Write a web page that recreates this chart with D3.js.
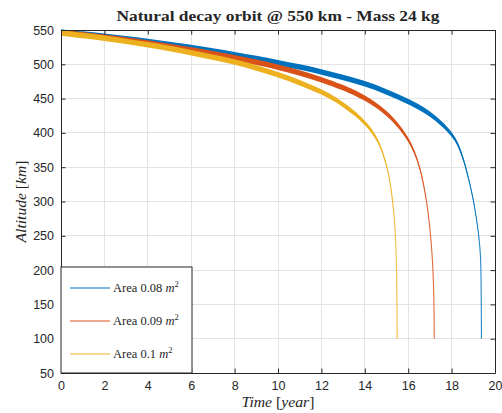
<!DOCTYPE html>
<html>
<head>
<meta charset="utf-8">
<script src="https://cdn.jsdelivr.net/npm/d3@7"></script>
<style>
  html, body { margin: 0; padding: 0; background: #fff; }
  svg { display: block; }
</style>
</head>
<body>
<script>
// ---------------- data ----------------
const xTicks = [0, 2, 4, 6, 8, 10, 12, 14, 16, 18, 20];
const yTicks = [50, 100, 150, 200, 250, 300, 350, 400, 450, 500, 550];
const areaLabels = ["0.08", "0.09", "0.1"];
const seriesColors = ["#0072BD", "#D95319", "#EDB120"];

// time [year] and altitude [km] (orbit-averaged), plus half-width of the oscillation band [km]
const blueTime = [0, 1, 2, 3, 4, 5, 6, 7, 8, 9, 10, 11, 12, 13, 14, 15, 16, 16.5, 17, 17.5, 18, 18.3, 18.6, 18.8, 19.0, 19.1, 19.2, 19.27, 19.32, 19.345, 19.36, 19.37, 19.375];
const blueAlt  = [547, 544, 541, 537.5, 533.5, 529, 524.5, 519.5, 514, 508.5, 502.5, 496, 489, 481, 472, 460, 446, 437.5, 428, 415, 399, 384, 357, 331, 303, 284, 263, 245, 227, 211, 185, 145, 100];
const blueBand = [4, 4, 4, 4, 4, 4, 4, 4, 4, 4, 4, 4, 4, 4, 4, 4, 4, 3.9, 3.8, 3.6, 3.4, 3.2, 2.8, 2.4, 2.0, 1.7, 1.4, 1.1, 0.8, 0.5, 0.3, 0.1, 0];

const orangeTime = [0, 1, 2, 3, 4, 5, 6, 7, 8, 9, 10, 11, 12, 13, 13.5, 14, 14.5, 15, 15.5, 16, 16.3, 16.54, 16.7, 16.85, 16.96, 17.04, 17.1, 17.15, 17.18, 17.195, 17.2];
const orangeAlt  = [546, 543, 539.5, 535.5, 531, 526, 521, 515.5, 509.5, 503, 496, 487.5, 478, 466, 459, 451, 441, 429, 413, 391, 372, 349, 327, 300, 273, 248, 224, 195, 165, 135, 100];
const orangeBand = [4, 4, 4, 4, 4, 4, 4, 4, 4, 4, 4, 4, 4, 4, 4, 4, 3.8, 3.6, 3.4, 3.1, 2.8, 2.4, 2, 1.6, 1.2, 0.9, 0.6, 0.3, 0.15, 0.05, 0];

const yellowTime = [0, 1, 2, 3, 4, 5, 6, 7, 8, 9, 10, 11, 12, 12.5, 13, 13.5, 14, 14.3, 14.6, 14.8, 15, 15.15, 15.27, 15.35, 15.4, 15.44, 15.465, 15.48, 15.49];
const yellowAlt  = [545.5, 542, 538, 533.5, 528.5, 523, 517, 510.5, 503.5, 495, 485, 473.5, 460, 451.5, 441.5, 429.5, 415, 404, 389, 374, 353, 332, 305, 280, 258, 230, 203, 165, 100];
const yellowBand = [4, 4, 4, 4, 4, 4, 4, 4, 4, 4, 4, 4, 3.9, 3.8, 3.6, 3.4, 3.2, 3, 2.7, 2.4, 2.1, 1.7, 1.3, 0.9, 0.6, 0.35, 0.15, 0.05, 0];

const series = [
  { area: areaLabels[0], color: seriesColors[0], t: blueTime, h: blueAlt, b: blueBand },
  { area: areaLabels[1], color: seriesColors[1], t: orangeTime, h: orangeAlt, b: orangeBand },
  { area: areaLabels[2], color: seriesColors[2], t: yellowTime, h: yellowAlt, b: yellowBand }
];

// ---------------- layout ----------------
const W = 502, H = 413;
const mL = 61, mR = 495, mT = 30, mB = 373;
const axisColor = "#262626";
const gridColor = "#e3e3e3";

const svg = d3.select("body").append("svg").attr("width", W).attr("height", H);

const x = d3.scaleLinear().domain([0, 20]).range([mL, mR]);
const y = d3.scaleLinear().domain([50, 550]).range([mB, mT]);

// background
svg.append("rect").attr("x", mL).attr("y", mT).attr("width", mR - mL).attr("height", mB - mT).attr("fill", "#fff");

// grid
const grid = svg.append("g");
grid.selectAll(".gx").data(xTicks.slice(1, -1)).join("line")
  .attr("x1", d => x(d)).attr("x2", d => x(d)).attr("y1", mT).attr("y2", mB)
  .attr("stroke", gridColor).attr("stroke-width", 1).attr("shape-rendering", "crispEdges");
grid.selectAll(".gy").data(yTicks.slice(1, -1)).join("line")
  .attr("y1", d => y(d)).attr("y2", d => y(d)).attr("x1", mL).attr("x2", mR)
  .attr("stroke", gridColor).attr("stroke-width", 1).attr("shape-rendering", "crispEdges");

// curves
const plot = svg.append("g");
const curve = d3.curveBasis;
series.forEach(s => {
  const pts = s.t.map((t, i) => ({ t: t, h: s.h[i], b: s.b[i] || 0 }));
  const band = d3.area()
    .x(d => x(d.t)).y0(d => y(d.h - d.b)).y1(d => y(d.h + d.b))
    .curve(curve);
  const line = d3.line().x(d => x(d.t)).y(d => y(d.h)).curve(curve);
  plot.append("path").attr("d", band(pts)).attr("fill", s.color).attr("stroke", "none");
  plot.append("path").attr("d", line(pts)).attr("fill", "none").attr("stroke", s.color)
    .attr("stroke-width", 1.1).attr("stroke-opacity", 0.85);
});

// axes (box with inward ticks on all sides)
const tickLen = 4.5;
const axes = svg.append("g");
const xAxisB = d3.axisBottom(x).tickValues(xTicks).tickSizeInner(-tickLen).tickSizeOuter(0).tickPadding(8);
const yAxisL = d3.axisLeft(y).tickValues(yTicks).tickSizeInner(-tickLen).tickSizeOuter(0).tickPadding(7);
const xAxisT = d3.axisTop(x).tickValues(xTicks).tickSizeInner(-tickLen).tickSizeOuter(0).tickFormat("");
const yAxisR = d3.axisRight(y).tickValues(yTicks).tickSizeInner(-tickLen).tickSizeOuter(0).tickFormat("");

function style(g) {
  g.select(".domain").attr("stroke", axisColor).attr("stroke-width", 1);
  g.selectAll(".tick line").attr("stroke", axisColor).attr("stroke-width", 1);
  g.selectAll(".tick text").attr("fill", axisColor)
    .style("font-family", "'Liberation Sans', Arial, Helvetica, sans-serif").style("font-size", "12.5px");
}
axes.append("g").attr("transform", `translate(0,${mB})`).call(xAxisB).call(style);
axes.append("g").attr("transform", `translate(${mL},0)`).call(yAxisL).call(style);
axes.append("g").attr("transform", `translate(0,${mT})`).call(xAxisT).call(style);
axes.append("g").attr("transform", `translate(${mR},0)`).call(yAxisR).call(style);

// legend
const lgX = mL, lgY = 267, lgW = 131, lgH = mB - 267;
const lg = svg.append("g");
lg.append("rect").attr("x", lgX).attr("y", lgY).attr("width", lgW).attr("height", lgH)
  .attr("fill", "#fff").attr("stroke", axisColor).attr("stroke-width", 1);
const rowY = [288, 321, 354];
series.forEach((s, i) => {
  lg.append("line").attr("x1", 70).attr("x2", 110).attr("y1", rowY[i]).attr("y2", rowY[i])
    .attr("stroke", s.color).attr("stroke-width", 1);
  const tx = lg.append("text").attr("x", 113).attr("y", rowY[i] + 4)
    .attr("fill", axisColor)
    .style("font-family", "'Liberation Serif', 'Times New Roman', serif").style("font-size", "12.5px");
  tx.append("tspan").text("Area " + s.area + " ");
  tx.append("tspan").style("font-style", "italic").text("m");
  tx.append("tspan").attr("dy", -5).style("font-size", "8.5px").text("2");
});

// title
svg.append("text").attr("x", (mL + mR) / 2).attr("y", 20.5).attr("text-anchor", "middle")
  .attr("fill", axisColor).attr("textLength", 323).attr("lengthAdjust", "spacingAndGlyphs")
  .style("font-family", "'Liberation Serif', 'Times New Roman', serif").style("font-weight", "bold").style("font-size", "14px")
  .text("Natural decay orbit @ 550 km - Mass 24 kg");

// x label
const xl = svg.append("text").attr("x", (mL + mR) / 2).attr("y", 407).attr("text-anchor", "middle")
  .attr("fill", axisColor).attr("textLength", 73).attr("lengthAdjust", "spacingAndGlyphs")
  .style("font-family", "'Liberation Serif', 'Times New Roman', serif").style("font-size", "14px");
xl.append("tspan").style("font-style", "italic").text("Time");
xl.append("tspan").text(" [");
xl.append("tspan").style("font-style", "italic").text("year");
xl.append("tspan").text("]");

// y label
const yl = svg.append("text").attr("transform", `translate(25.5,${(mT + mB) / 2}) rotate(-90)`)
  .attr("text-anchor", "middle").attr("fill", axisColor).attr("textLength", 82).attr("lengthAdjust", "spacingAndGlyphs")
  .style("font-family", "'Liberation Serif', 'Times New Roman', serif").style("font-size", "14px");
yl.append("tspan").style("font-style", "italic").text("Altitude");
yl.append("tspan").text(" [");
yl.append("tspan").style("font-style", "italic").text("km");
yl.append("tspan").text("]");
</script>
</body>
</html>
